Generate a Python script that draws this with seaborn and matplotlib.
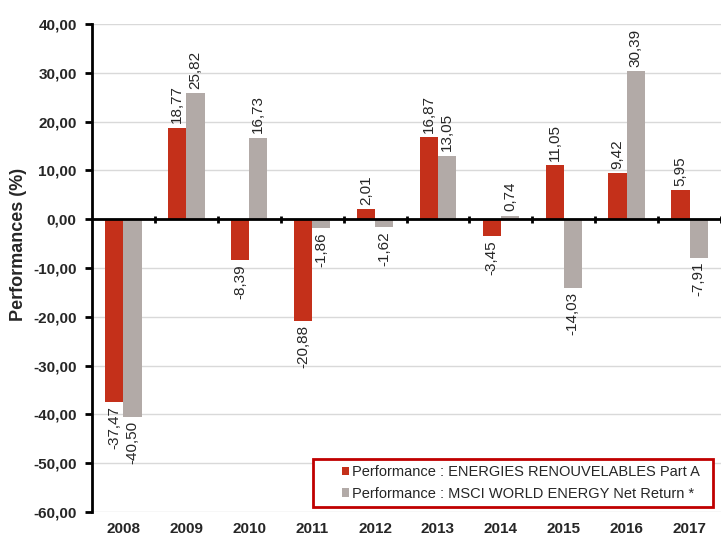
import matplotlib
matplotlib.use("Agg")
import matplotlib.pyplot as plt
import seaborn as sns
import pandas as pd
from matplotlib.patches import Rectangle

years = ["2008", "2009", "2010", "2011", "2012", "2013", "2014", "2015", "2016", "2017"]
fund = [-37.47, 18.77, -8.39, -20.88, 2.01, 16.87, -3.45, 11.05, 9.42, 5.95]
index = [-40.50, 25.82, 16.73, -1.86, -1.62, 13.05, 0.74, -14.03, 30.39, -7.91]
series_names = ["Performance : ENERGIES RENOUVELABLES Part A",
                "Performance : MSCI WORLD ENERGY Net Return *"]
yticks = [40, 30, 20, 10, 0, -10, -20, -30, -40, -50, -60]
colors = ["#C4301A", "#B2AAA7"]

df = pd.DataFrame({
    "year": years * 2,
    "series": [series_names[0]] * len(years) + [series_names[1]] * len(years),
    "value": fund + index,
})

sns.set_theme(style="white")
plt.rcParams["font.family"] = ["Liberation Sans", "DejaVu Sans"]

fig = plt.figure(figsize=(7.22, 5.37), dpi=100)
ax = fig.add_axes([92 / 722, 1 - 512 / 537, (721 - 92) / 722, (512 - 24) / 537])

sns.barplot(data=df, x="year", y="value", hue="series", hue_order=series_names,
            palette=colors, width=0.58, ax=ax, legend=False, saturation=1,
            linewidth=0)

ax.set_ylim(-60, 40)
ax.set_xlim(-0.5, len(years) - 0.5)
ax.set_yticks(yticks)
ax.set_yticklabels([f"{v:.2f}".replace(".", ",") for v in yticks],
                   fontsize=11, fontweight="bold")
ax.set_xticks(range(len(years)))
ax.set_xticklabels(years, fontsize=11, fontweight="bold")
ax.tick_params(axis="x", length=0, pad=7)
ax.tick_params(axis="y", length=5, width=2, color="black", direction="out", pad=6, left=True)
ax.set_xlabel("")
ax.set_ylabel("Performances (%)", fontsize=13, fontweight="bold")
ax.yaxis.set_label_coords((27 - 92) / 629, (512 - 244) / 488)

ax.grid(axis="y", color="#D9D9D9", linewidth=1)
ax.set_axisbelow(True)
for s in ["top", "right", "bottom"]:
    ax.spines[s].set_visible(False)
ax.spines["left"].set_linewidth(2)
ax.spines["left"].set_color("black")

# zero line with category-boundary ticks
ax.axhline(0, color="black", linewidth=2, zorder=5)
for b in range(len(years)):
    ax.plot([b + 0.5, b + 0.5], [-0.7, 0.7], color="black", linewidth=2, zorder=5,
            solid_capstyle="butt")

# data labels
for cont in ax.containers:
    for bar in cont:
        h = bar.get_height()
        x = bar.get_x() + bar.get_width() / 2
        txt = f"{h:.2f}".replace(".", ",")
        if h >= 0:
            ax.annotate(txt, (x, h), xytext=(0, 3), textcoords="offset points",
                        rotation=90, ha="center", va="bottom", fontsize=11)
        else:
            ax.annotate(txt, (x, h), xytext=(0, -3), textcoords="offset points",
                        rotation=90, ha="center", va="top", fontsize=11)

# legend frame and legend
x0 = (313 - 92) / 629
x1 = (713 - 92) / 629
y0 = (512 - 507) / 488
y1 = (512 - 459) / 488
ax.add_patch(Rectangle((x0, y0), x1 - x0, y1 - y0, transform=ax.transAxes,
                       facecolor="white", edgecolor="#C00000", linewidth=2, zorder=6))
handles = [Rectangle((0, 0), 1, 1, facecolor=c, edgecolor="none") for c in colors]
leg = ax.legend(handles, series_names, loc="center left",
                bbox_to_anchor=((342 - 92) / 629, (y0 + y1) / 2), frameon=False,
                fontsize=10.5, handlelength=0.5, handleheight=0.5, handletextpad=0.2,
                labelspacing=0.5, borderpad=0, borderaxespad=0)
leg.set_zorder(7)

fig.savefig("out.png", dpi=100)
